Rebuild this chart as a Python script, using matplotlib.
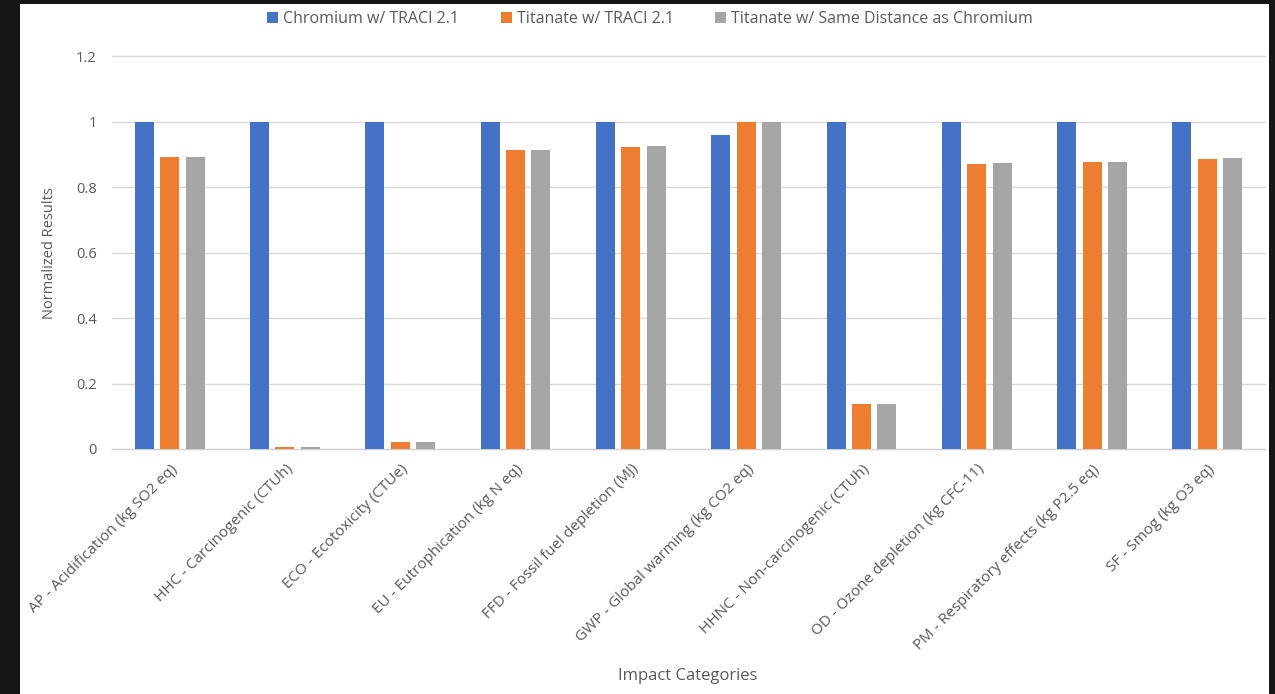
import numpy as np
import matplotlib
matplotlib.use('Agg')
import matplotlib.pyplot as plt
from matplotlib.patches import Rectangle

categories = ['AP - Acidification (kg SO2 eq)', 'HHC - Carcinogenic (CTUh)',
              'ECO - Ecotoxicity (CTUe)', 'EU - Eutrophication (kg N eq)',
              'FFD - Fossil fuel depletion (MJ)', 'GWP - Global warming (kg CO2 eq)',
              'HHNC - Non-carcinogenic (CTUh)', 'OD - Ozone depletion (kg CFC-11)',
              'PM - Respiratory effects (kg P2.5 eq)', 'SF - Smog (kg O3 eq)']
chromium = [1.0, 1.0, 1.0, 1.0, 1.0, 0.96, 1.0, 1.0, 1.0, 1.0]
titanate = [0.893, 0.005, 0.02, 0.913, 0.922, 1.0, 0.138, 0.870, 0.876, 0.886]
titanate_same = [0.893, 0.005, 0.02, 0.913, 0.925, 1.0, 0.138, 0.873, 0.876, 0.889]
series_names = ['Chromium w/ TRACI 2.1', 'Titanate w/ TRACI 2.1',
                'Titanate w/ Same Distance as Chromium']
colors = ['#4472c4', '#ed7d31', '#a5a5a5']
yticks = [0, 0.2, 0.4, 0.6, 0.8, 1, 1.2]
ytick_labels = ['0', '0.2', '0.4', '0.6', '0.8', '1', '1.2']

plt.rcParams['font.family'] = ['Open Sans', 'DejaVu Sans']
txt = '#595959'

fig = plt.figure(figsize=(12.75, 6.94), dpi=100)
fig.patch.set_facecolor('#161616')
# white chart panel behind everything
fig.patches.append(Rectangle((20 / 1275, 0), 1249 / 1275, 690 / 694,
                             transform=fig.transFigure, facecolor='white',
                             edgecolor='none', zorder=-10))

ax = fig.add_axes([112 / 1275, 1 - 449 / 694, 1153 / 1275, (449 - 56.5) / 694])
ax.set_facecolor('white')
ax.set_zorder(1)

x = np.arange(len(categories))
w = 0.165
step = 0.22
for i, (vals, name, c) in enumerate(zip([chromium, titanate, titanate_same], series_names, colors)):
    ax.bar(x + (i - 1) * step, vals, width=w, color=c, label=name, zorder=3)

ax.set_xlim(-0.5, len(categories) - 0.5)
ax.set_ylim(0, 1.2)
ax.set_yticks(yticks)
ax.set_yticklabels(ytick_labels, fontsize=10.5, color=txt)
ax.set_xticks(x)
ax.set_xticklabels(categories, rotation=45, ha='right', rotation_mode='anchor',
                   fontsize=11, color=txt)
ax.tick_params(axis='both', length=0)
ax.tick_params(axis='y', pad=11)
ax.tick_params(axis='x', pad=9)
ax.grid(axis='y', color='#d9d9d9', linewidth=1, zorder=0)
for gl in ax.yaxis.get_gridlines():
    gl.set_clip_on(False)
for s in ['top', 'right', 'left']:
    ax.spines[s].set_visible(False)
ax.spines['bottom'].set_color('#d0d0d0')

ax.set_ylabel('Normalized Results', fontsize=10.5, color=txt, labelpad=14)
fig.text(688 / 1275, 1 - 676 / 694, 'Impact Categories', fontsize=12, color=txt,
         ha='center', va='center')

fig.legend(loc='center', bbox_to_anchor=(650 / 1275, 1 - 19 / 694), ncol=3,
           frameon=False, fontsize=11.5, labelcolor=txt, handlelength=0.7,
           handleheight=0.7, handletextpad=0.3, columnspacing=2.6)

fig.savefig('out.png', dpi=100, facecolor=fig.get_facecolor())
